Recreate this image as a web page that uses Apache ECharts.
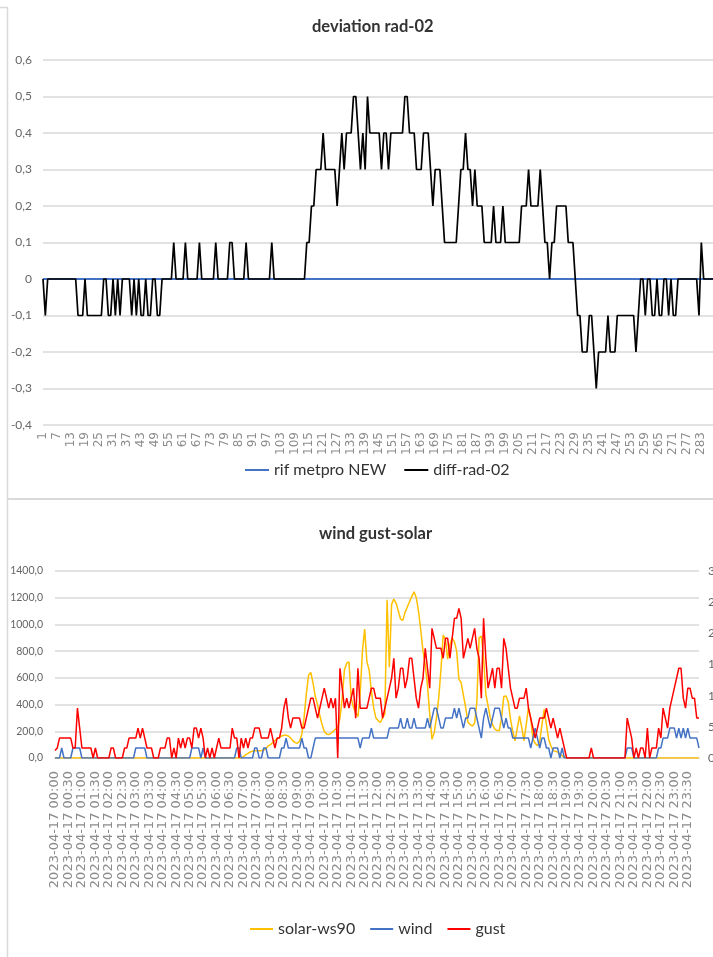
<!DOCTYPE html>
<html>
<head>
<meta charset="utf-8">
<title>deviation rad-02 / wind gust-solar</title>
<script src="https://cdn.jsdelivr.net/npm/echarts@6/dist/echarts.min.js"></script>
<style>
  html, body { margin: 0; padding: 0; background: #fff; }
  #chart { width: 713px; height: 957px; }
</style>
</head>
<body>
<div id="chart"></div>
<script>
'use strict';

// top chart: deviation rad-02, 288 samples (one row = 12 samples)
var diffRad02 = [
    0, -0.1, 0, 0, 0, 0, 0, 0, 0, 0, 0, 0,
    0, 0, 0, -0.1, -0.1, -0.1, 0, -0.1, -0.1, -0.1, -0.1, -0.1,
    -0.1, -0.1, 0, 0, -0.1, -0.1, 0, -0.1, 0, -0.1, 0, 0,
    0, 0, -0.1, 0, -0.1, 0, -0.1, -0.1, 0, -0.1, -0.1, 0,
    0, -0.1, -0.1, 0, 0, 0, 0, 0, 0.1, 0, 0, 0,
    0, 0.1, 0, 0, 0, 0, 0, 0.1, 0, 0, 0, 0,
    0, 0, 0.1, 0, 0, 0, 0, 0, 0.1, 0.1, 0, 0,
    0, 0, 0, 0.1, 0, 0, 0, 0, 0, 0, 0, 0,
    0, 0, 0.1, 0, 0, 0, 0, 0, 0, 0, 0, 0,
    0, 0, 0, 0, 0, 0.1, 0.1, 0.2, 0.2, 0.3, 0.3, 0.3,
    0.4, 0.3, 0.3, 0.3, 0.3, 0.3, 0.2, 0.3, 0.4, 0.3, 0.4, 0.4,
    0.4, 0.5, 0.5, 0.4, 0.3, 0.4, 0.3, 0.5, 0.4, 0.4, 0.4, 0.4,
    0.4, 0.3, 0.4, 0.4, 0.3, 0.4, 0.4, 0.4, 0.4, 0.4, 0.4, 0.5,
    0.5, 0.4, 0.4, 0.4, 0.3, 0.3, 0.3, 0.4, 0.4, 0.4, 0.3, 0.2,
    0.3, 0.3, 0.3, 0.2, 0.1, 0.1, 0.1, 0.1, 0.1, 0.1, 0.2, 0.3,
    0.3, 0.4, 0.3, 0.3, 0.2, 0.3, 0.2, 0.2, 0.2, 0.1, 0.1, 0.1,
    0.1, 0.2, 0.1, 0.1, 0.1, 0.2, 0.1, 0.1, 0.1, 0.1, 0.1, 0.1,
    0.1, 0.2, 0.2, 0.2, 0.3, 0.2, 0.2, 0.2, 0.2, 0.3, 0.2, 0.1,
    0.1, 0, 0.1, 0.1, 0.2, 0.2, 0.2, 0.2, 0.2, 0.1, 0.1, 0.1,
    0, -0.1, -0.1, -0.2, -0.2, -0.2, -0.1, -0.1, -0.2, -0.3, -0.2, -0.2,
    -0.2, -0.2, -0.1, -0.2, -0.2, -0.2, -0.1, -0.1, -0.1, -0.1, -0.1, -0.1,
    -0.1, -0.1, -0.2, -0.1, 0, 0, -0.1, 0, 0, -0.1, -0.1, 0,
    -0.1, -0.1, 0, 0, -0.1, 0, -0.1, -0.1, 0, 0, 0, 0,
    0, 0, 0, 0, 0, -0.1, 0.1, 0, 0, 0, 0, 0
];

var rifMetproNew = [
    0, 0, 0, 0, 0, 0, 0, 0, 0, 0, 0, 0,  0, 0, 0, 0, 0, 0, 0, 0, 0, 0, 0, 0,
    0, 0, 0, 0, 0, 0, 0, 0, 0, 0, 0, 0,  0, 0, 0, 0, 0, 0, 0, 0, 0, 0, 0, 0,
    0, 0, 0, 0, 0, 0, 0, 0, 0, 0, 0, 0,  0, 0, 0, 0, 0, 0, 0, 0, 0, 0, 0, 0,
    0, 0, 0, 0, 0, 0, 0, 0, 0, 0, 0, 0,  0, 0, 0, 0, 0, 0, 0, 0, 0, 0, 0, 0,
    0, 0, 0, 0, 0, 0, 0, 0, 0, 0, 0, 0,  0, 0, 0, 0, 0, 0, 0, 0, 0, 0, 0, 0,
    0, 0, 0, 0, 0, 0, 0, 0, 0, 0, 0, 0,  0, 0, 0, 0, 0, 0, 0, 0, 0, 0, 0, 0,
    0, 0, 0, 0, 0, 0, 0, 0, 0, 0, 0, 0,  0, 0, 0, 0, 0, 0, 0, 0, 0, 0, 0, 0,
    0, 0, 0, 0, 0, 0, 0, 0, 0, 0, 0, 0,  0, 0, 0, 0, 0, 0, 0, 0, 0, 0, 0, 0,
    0, 0, 0, 0, 0, 0, 0, 0, 0, 0, 0, 0,  0, 0, 0, 0, 0, 0, 0, 0, 0, 0, 0, 0,
    0, 0, 0, 0, 0, 0, 0, 0, 0, 0, 0, 0,  0, 0, 0, 0, 0, 0, 0, 0, 0, 0, 0, 0,
    0, 0, 0, 0, 0, 0, 0, 0, 0, 0, 0, 0,  0, 0, 0, 0, 0, 0, 0, 0, 0, 0, 0, 0,
    0, 0, 0, 0, 0, 0, 0, 0, 0, 0, 0, 0,  0, 0, 0, 0, 0, 0, 0, 0, 0, 0, 0, 0
];

// bottom chart: wind gust-solar (5 min samples over 2023-04-17)
// solar on the left axis
var solarWs90 = [
    0, 0, 0, 0, 0, 0, 0, 0, 0, 0, 0, 0,
    0, 0, 0, 0, 0, 0, 0, 0, 0, 0, 0, 0,
    0, 0, 0, 0, 0, 0, 0, 0, 0, 0, 0, 0,
    0, 0, 0, 0, 0, 0, 0, 0, 0, 0, 0, 0,
    0, 0, 0, 0, 0, 0, 0, 0, 0, 0, 0, 0,
    0, 0, 0, 0, 0, 0, 0, 0, 0, 0, 0, 0,
    0, 0, 0, 0, 0, 0, 0, 0, 0, 0, 0, 0,
    10, 25, 35, 45, 50, 55, 55, 55, 55, 60, 70, 90,
    100, 115, 130, 145, 155, 165, 170, 170, 165, 150, 130, 115,
    110, 125, 180, 300, 480, 620, 640, 560, 460, 400, 320, 250,
    200, 180, 175, 185, 200, 215, 230, 300, 450, 660, 710, 720,
    450, 380, 340, 310, 480, 800, 966, 720, 660, 500, 377, 300,
    280, 266, 300, 330, 1185, 680, 1150, 1190, 1160, 1100, 1040, 1030,
    1090, 1130, 1170, 1210, 1245, 1200, 1100, 960, 800, 700, 540, 330,
    140, 190, 300, 450, 660, 920, 890, 740, 850, 900, 870, 800,
    590, 565, 470, 380, 270, 250, 240, 260, 420, 900, 912, 750,
    480, 390, 300, 250, 216, 205, 204, 300, 460, 465, 420, 290,
    200, 129, 220, 315, 230, 129, 250, 378, 300, 141, 110, 92,
    120, 250, 365, 250, 141, 90, 55, 50, 45, 30, 17, 5,
    0, 0, 0, 0, 0, 0, 0, 0, 0, 0, 0, 0,
    0, 0, 0, 0, 0, 0, 0, 0, 0, 0, 0, 0,
    0, 0, 0, 0, 0, 0, 0, 0, 0, 0, 0, 0,
    0, 0, 0, 0, 0, 0, 0, 0, 0, 0, 0, 0,
    0, 0, 0, 0, 0, 0, 0, 0, 0, 0, 0, 0
];

// wind and gust on the right axis
var wind = [
    0, 0, 0, 1.6, 0, 0, 0, 0, 1.6, 1.6, 1.6, 1.6,
    0, 0, 0, 0, 0, 0, 0, 0, 0, 0, 0, 0,
    0, 0, 0, 0, 0, 0, 0, 0, 0, 0, 0, 0,
    1.6, 1.6, 1.6, 1.6, 1.6, 0, 0, 0, 0, 0, 0, 0,
    0, 0, 0, 0, 0, 0, 0, 0, 0, 0, 0, 0,
    0, 1.6, 1.6, 1.6, 1.6, 0, 1.6, 0, 0, 0, 0, 0,
    0, 0, 0, 0, 0, 0, 0, 0, 0, 1.6, 1.6, 0,
    0, 0, 0, 0, 0, 1.6, 1.6, 0, 0, 1.6, 1.6, 0,
    0, 0, 0, 0, 0, 1.6, 1.6, 3.2, 1.6, 1.6, 1.6, 1.6,
    1.6, 1.6, 3.2, 1.6, 1.6, 0, 0, 1.6, 3.2, 3.2, 3.2, 3.2,
    3.2, 3.2, 3.2, 3.2, 3.2, 3.2, 3.2, 3.2, 3.2, 3.2, 3.2, 3.2,
    3.2, 3.2, 3.2, 3.2, 1.6, 3.2, 3.2, 3.2, 3.2, 4.8, 3.2, 3.2,
    3.2, 3.2, 3.2, 3.2, 3.2, 4.8, 4.8, 4.8, 4.8, 4.8, 6.4, 4.8,
    4.8, 6.4, 4.8, 4.8, 6.4, 4.8, 4.8, 4.8, 4.8, 4.8, 6.4, 4.8,
    6.4, 8.0, 8.0, 6.4, 4.8, 4.8, 6.4, 6.4, 6.4, 6.4, 8.0, 6.4,
    8.0, 6.4, 4.8, 6.4, 6.4, 8.0, 8.0, 8.0, 6.4, 4.8, 3.2, 6.4,
    8.0, 6.4, 4.8, 6.4, 8.0, 8.0, 8.0, 6.4, 4.8, 6.4, 4.8, 4.8,
    3.2, 3.2, 3.2, 3.2, 3.2, 3.2, 3.2, 3.2, 1.6, 3.2, 4.8, 3.2,
    1.6, 3.2, 3.2, 1.6, 1.6, 0, 1.6, 1.6, 1.6, 0, 1.6, 0,
    0, 0, 0, 0, 0, 0, 0, 0, 0, 0, 0, 0,
    0, 0, 0, 0, 0, 0, 0, 0, 0, 0, 0, 0,
    0, 0, 0, 1.6, 1.6, 1.6, 0, 0, 0, 0, 0, 0,
    0, 0, 0, 0, 0, 1.6, 1.6, 3.2, 3.2, 3.2, 4.8, 4.8,
    4.8, 3.2, 4.8, 3.2, 4.8, 3.2, 4.8, 3.2, 3.2, 3.2, 3.2, 1.6
];

var gust = [
    1.2, 1.6, 3.2, 3.2, 3.2, 3.2, 3.2, 3.2, 1.6, 1.6, 8.0, 4.8,
    1.6, 1.6, 1.6, 1.6, 1.6, 0, 1.6, 0, 0, 0, 0, 0,
    0, 1.6, 1.6, 0, 0, 0, 0, 1.6, 1.6, 3.2, 3.2, 3.2,
    3.2, 4.8, 3.2, 4.8, 3.2, 1.6, 1.6, 1.6, 0, 0, 0, 1.6,
    1.6, 1.6, 3.2, 3.2, 0, 1.6, 0, 3.2, 1.6, 3.2, 1.6, 3.2,
    3.2, 1.6, 4.8, 4.8, 3.2, 4.8, 3.2, 0, 1.6, 0, 1.6, 0,
    1.6, 3.2, 1.6, 1.6, 1.6, 1.6, 1.6, 4.8, 3.2, 3.2, 0, 3.2,
    1.6, 3.2, 1.6, 3.2, 3.2, 4.8, 4.8, 4.8, 3.2, 3.2, 3.2, 3.2,
    4.8, 3.2, 1.6, 3.2, 3.2, 4.8, 8.0, 9.6, 6.4, 4.8, 6.4, 6.4,
    6.4, 6.4, 4.8, 4.8, 6.4, 8.0, 9.6, 9.6, 8.0, 6.4, 8.0, 9.6,
    11.2, 9.6, 8.0, 9.6, 8.0, 9.6, 0, 14.4, 11.2, 8.0, 9.6, 8.0,
    9.6, 11.2, 6.4, 14.4, 8.0, 8.0, 8.0, 8.0, 9.6, 11.2, 11.2, 9.6,
    9.6, 9.6, 6.4, 8.0, 9.6, 11.2, 12.8, 16.0, 9.6, 11.2, 14.4, 14.4,
    11.2, 12.8, 16.0, 16.0, 12.8, 9.6, 8.0, 11.2, 12.8, 17.6, 14.4, 11.2,
    20.8, 19.2, 17.6, 17.6, 17.6, 16.0, 19.2, 19.2, 16.0, 19.2, 22.4, 22.4,
    24.0, 22.4, 16.0, 17.6, 19.2, 17.6, 19.2, 20.8, 17.6, 16.0, 9.6, 22.4,
    16.0, 11.2, 12.8, 14.4, 11.2, 14.4, 14.4, 11.2, 19.2, 17.6, 14.4, 11.2,
    9.6, 8.0, 8.0, 9.6, 9.6, 9.6, 11.2, 8.0, 6.4, 4.8, 3.2, 4.8,
    6.4, 6.4, 6.4, 8.0, 6.4, 4.8, 6.4, 4.8, 3.2, 4.8, 3.2, 1.6,
    0, 0, 0, 0, 0, 0, 0, 0, 0, 0, 0, 1.6,
    0, 0, 0, 0, 0, 0, 0, 0, 0, 0, 0, 0,
    0, 0, 0, 6.4, 4.8, 3.2, 0, 1.6, 0, 1.6, 1.6, 0,
    4.8, 0, 1.6, 1.6, 1.6, 4.8, 3.2, 8.0, 6.4, 4.8, 8.0, 9.6,
    11.2, 12.8, 14.4, 14.4, 9.6, 8.0, 11.2, 11.2, 9.6, 9.6, 6.4, 6.4
];

// category labels
var sampleNumbers = [];
for (var n = 1; n <= diffRad02.length; n++) {
    sampleNumbers.push(String(n));
}
var day = '2023-04-17';
var timeLabels = [];
for (var h = 0; h < 24; h++) {
    for (var m = 0; m < 60; m += 5) {
        timeLabels.push(day + ' ' + (h < 10 ? '0' : '') + h + ':' + (m < 10 ? '0' : '') + m);
    }
}

var NARROW = "Lato, 'Liberation Sans', sans-serif";
var WIDE = "'DejaVu Sans', sans-serif";
var GRID_LINE = '#d9d9d9';

function commaOne(v) {
    return v.toFixed(1).replace('.', ',');
}

function devLabel(v) {
    var r = Math.round(v * 10) / 10;
    if (r === 0) return '0';
    return commaOne(r);
}

function lineSeries(name, data, color, xIdx, yIdx, width) {
    return {
        name: name,
        type: 'line',
        xAxisIndex: xIdx,
        yAxisIndex: yIdx,
        data: data,
        color: color,
        symbol: 'none',
        showSymbol: false,
        lineStyle: { color: color, width: width },
        itemStyle: { color: color },
        silent: true
    };
}

var chart = echarts.init(document.getElementById('chart'), null, { renderer: 'canvas' });

var option = {
    animation: false,
    backgroundColor: '#ffffff',
    textStyle: { fontFamily: NARROW },
    title: [
        {
            text: 'deviation rad-02',
            left: 307,
            top: 13,
            textStyle: { fontFamily: NARROW, fontSize: 16.5, fontWeight: 'bold', color: '#333333' }
        },
        {
            text: 'wind gust-solar',
            left: 314,
            top: 520,
            textStyle: { fontFamily: NARROW, fontSize: 16.5, fontWeight: 'bold', color: '#333333' }
        }
    ],
    legend: [
        {
            data: ['rif metpro NEW', 'diff-rad-02'],
            left: 240,
            top: 457,
            icon: 'rect',
            itemWidth: 24,
            itemHeight: 2,
            itemGap: 18,
            selectedMode: false,
            textStyle: { fontFamily: NARROW, fontSize: 16, color: '#333333' }
        },
        {
            data: ['solar-ws90', 'wind', 'gust'],
            left: 245,
            top: 916,
            icon: 'rect',
            itemWidth: 23,
            itemHeight: 2,
            itemGap: 15,
            selectedMode: false,
            textStyle: { fontFamily: NARROW, fontSize: 16, color: '#333333' }
        }
    ],
    grid: [
        { left: 43, right: 0, top: 60, height: 365, outerBoundsMode: 'none', containLabel: false },
        { left: 55, right: 14, top: 571, height: 187, outerBoundsMode: 'none', containLabel: false }
    ],
    xAxis: [
        {
            type: 'category',
            gridIndex: 0,
            data: sampleNumbers,
            boundaryGap: false,
            axisLine: { onZero: true, lineStyle: { color: GRID_LINE, width: 1.5 } },
            axisTick: { show: false },
            axisLabel: {
                interval: 5,
                rotate: 90,
                margin: 7,
                fontFamily: WIDE,
                fontSize: 12,
                color: '#8c8c8c',
                hideOverlap: false
            },
            splitLine: { show: false }
        },
        {
            type: 'category',
            gridIndex: 1,
            data: timeLabels,
            boundaryGap: false,
            axisLine: { lineStyle: { color: GRID_LINE, width: 1.5 } },
            axisTick: { show: false },
            axisLabel: {
                interval: 5,
                rotate: 90,
                margin: 13,
                fontFamily: WIDE,
                fontSize: 13,
                color: '#8c8c8c',
                hideOverlap: false
            },
            splitLine: { show: false }
        }
    ],
    yAxis: [
        {
            type: 'value',
            gridIndex: 0,
            min: -0.4,
            max: 0.6,
            interval: 0.1,
            axisLine: { show: false },
            axisTick: { show: false },
            axisLabel: { formatter: devLabel, margin: 11, fontFamily: NARROW, fontSize: 12, color: '#666666' },
            splitLine: { lineStyle: { color: GRID_LINE, width: 1.5 } }
        },
        {
            type: 'value',
            gridIndex: 1,
            min: 0,
            max: 1400,
            interval: 200,
            axisLine: { show: false },
            axisTick: { show: false },
            axisLabel: { formatter: commaOne, margin: 12, fontFamily: NARROW, fontSize: 10.5, color: '#666666' },
            splitLine: { lineStyle: { color: GRID_LINE, width: 1.5 } }
        },
        {
            type: 'value',
            gridIndex: 1,
            position: 'right',
            min: 0,
            max: 30,
            interval: 5,
            axisLine: { show: false },
            axisTick: { show: false },
            axisLabel: { formatter: commaOne, margin: 9, fontFamily: NARROW, fontSize: 12, color: '#666666' },
            splitLine: { show: false }
        }
    ],
    series: [
        lineSeries('rif metpro NEW', rifMetproNew, '#4472C4', 0, 0, 2),
        lineSeries('diff-rad-02', diffRad02, '#000000', 0, 0, 1.7),
        lineSeries('solar-ws90', solarWs90, '#FFC000', 1, 1, 1.5),
        lineSeries('wind', wind, '#4472C4', 1, 2, 1.5),
        lineSeries('gust', gust, '#FF0000', 1, 2, 1.5)
    ],
    graphic: [
        { type: 'line', silent: true, shape: { x1: 7.5, y1: 7, x2: 7.5, y2: 957 }, style: { stroke: GRID_LINE, lineWidth: 1.5 } },
        { type: 'line', silent: true, shape: { x1: 0, y1: 7.5, x2: 7.5, y2: 7.5 }, style: { stroke: GRID_LINE, lineWidth: 1.5 } },
        { type: 'line', silent: true, shape: { x1: 7, y1: 499, x2: 713, y2: 499 }, style: { stroke: GRID_LINE, lineWidth: 2 } }
    ]
};

chart.setOption(option);
</script>
</body>
</html>
